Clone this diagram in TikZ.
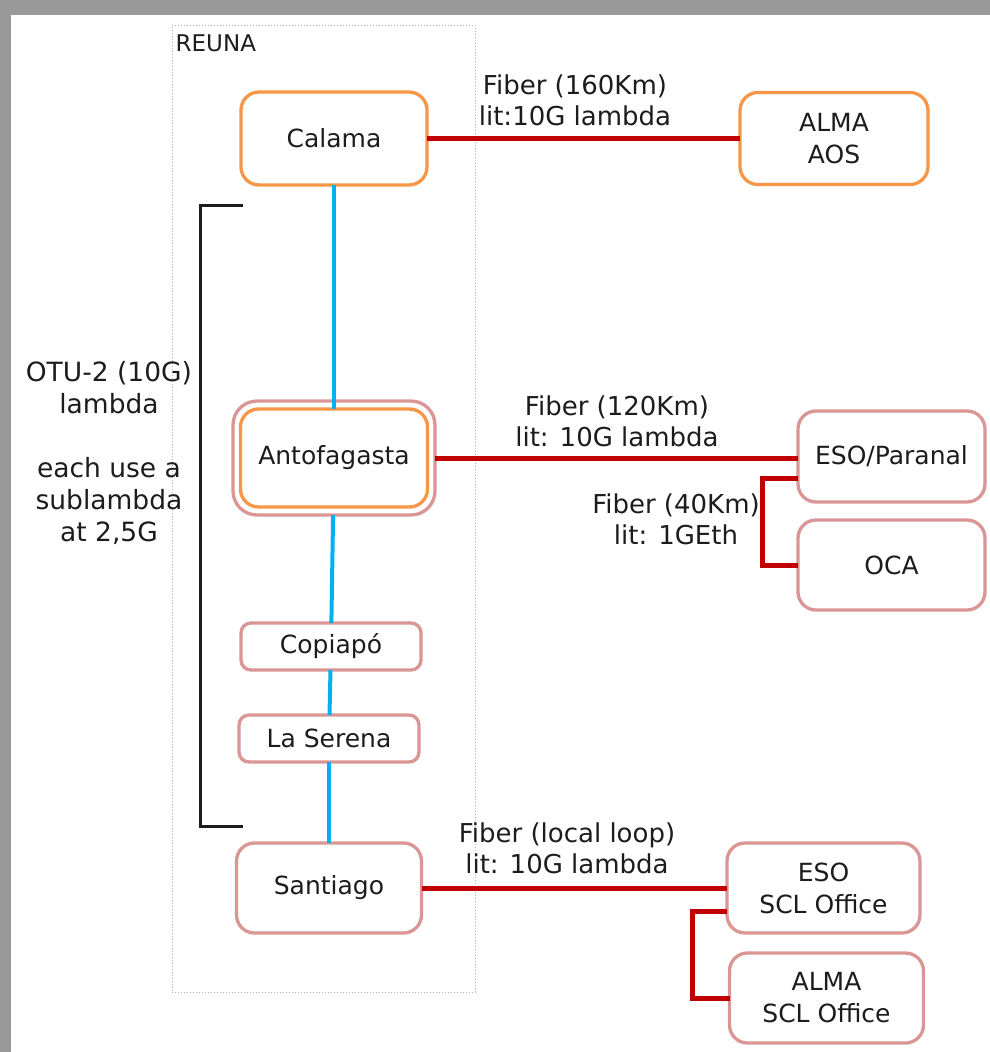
\documentclass[tikz,border=0pt]{standalone}
\usepackage{fontspec}
\setmainfont{DejaVu Sans}
\usetikzlibrary{positioning}
\definecolor{boxorange}{RGB}{247,150,70}
\definecolor{boxrose}{RGB}{217,150,148}
\definecolor{fibrered}{RGB}{192,0,0}
\definecolor{lambdablue}{RGB}{0,176,240}
\definecolor{ink}{RGB}{28,28,28}

\begin{document}
\begin{tikzpicture}[x=1pt,y=-1pt, every node/.style={font=\fontsize{25}{32}\selectfont,text=ink},
  site/.style={rounded corners=18pt,draw=boxrose,line width=3.3pt,fill=white,align=center,inner sep=0pt,outer sep=0pt},
  hub/.style={site,draw=boxorange},
  town/.style={site,rounded corners=10pt,minimum width=180pt,minimum height=47pt},
  fibre/.style={draw=fibrered,line width=5pt},
  lambda/.style={draw=lambdablue,line width=4pt},
  bracket/.style={draw=ink,line width=3pt},
  lbl/.style={align=center,font=\fontsize{26}{31}\selectfont}]
  \useasboundingbox (0,0) rectangle (990,1052);
  % screenshot shadow
  \fill[black!40] (0,0) rectangle (990,15);
  \fill[black!40] (0,0) rectangle (11,1052);
  % REUNA frame
  \node[draw=black!30,dotted,line width=1pt,minimum width=303pt,minimum height=967pt,inner sep=0pt] (reuna) at (323.5,508.5) {};
  \node[anchor=north west,inner sep=0pt,font=\fontsize{23}{28}\selectfont] (reunalbl) at ([xshift=4pt,yshift=-10pt]reuna.north west) {REUNA};

  \node[hub,minimum width=186pt,minimum height=93pt] (calama) at (334,138.5) {Calama};
  \node[hub,minimum width=188pt,minimum height=92pt,right=313pt of calama] (aos) {ALMA\\AOS};
  \node[site,rounded corners=24pt,fill=none,minimum width=202pt,minimum height=114pt,below=216pt of calama] (antoout) {};
  \node[hub,minimum width=187pt,minimum height=98pt] (antoin) at (antoout) {Antofagasta};
  \node[site,minimum width=187pt,minimum height=91pt,right=363pt of antoout,yshift=1.5pt] (paranal) {ESO/Paranal};
  \node[site,minimum width=187pt,minimum height=90pt,below=18pt of paranal] (oca) {OCA};
  \node[town,below=108pt of antoout,xshift=-3pt] (copiapo) {Copiapó};
  \node[town,below=45pt of copiapo,xshift=-2pt] (serena) {La Serena};
  \node[site,minimum width=185pt,minimum height=90pt,below=81pt of serena] (santiago) {Santiago};
  \node[site,minimum width=193pt,minimum height=90pt,right=305.5pt of santiago] (esoscl) {ESO\\SCL Office};
  \node[site,minimum width=194pt,minimum height=90pt,below=20pt of esoscl,xshift=3pt] (almascl) {ALMA\\SCL Office};

  % backbone lambda
  \draw[lambda] (calama) -- (antoin);
  \draw[lambda] (antoout) -- (copiapo);
  \draw[lambda] (copiapo) -- (serena);
  \draw[lambda] (serena) -- (santiago);

  % fibre links
  \draw[fibre] (calama) -- (aos);
  \draw[fibre] (antoout.east) -- (antoout.east -| paranal.west);
  \draw[fibre] ([yshift=-22pt]paranal.west) -- ++(-36,0) |- (oca.west);
  \draw[fibre] (santiago) -- (esoscl);
  \draw[fibre] ([yshift=-23pt]esoscl.west) -- ++(-35,0) |- (almascl.west);

  \node[lbl] (l160) at (575,100) {Fiber (160Km)\\lit:10G lambda};
  \node[lbl] (l120) at (617,421) {Fiber (120Km)\\lit: 10G lambda};
  \node[lbl] (l40) at (676,519.5) {Fiber (40Km)\\lit: 1GEth};
  \node[lbl] (lloop) at (567,848) {Fiber (local loop)\\lit: 10G lambda};

  % OTU bracket
  \coordinate (btop) at (243,205);
  \coordinate (bbot) at (243,826);
  \draw[bracket] (btop) -- ++(-43,0) |- (bbot);
  \node[lbl,font=\fontsize{26.5}{32}\selectfont] (otu) at (109,453) {OTU-2 (10G)\\lambda\\[32pt]each use a\\sublambda\\at 2,5G};
\end{tikzpicture}
\end{document}
